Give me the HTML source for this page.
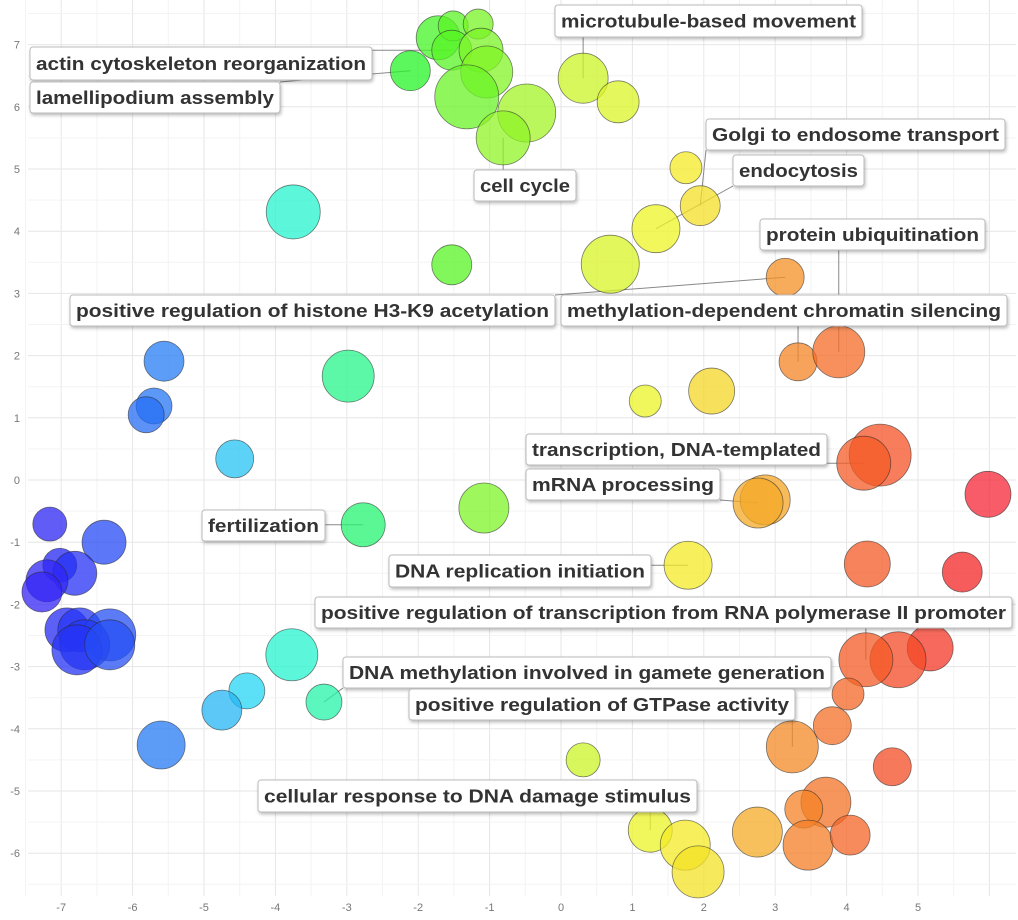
<!DOCTYPE html>
<html><head><meta charset="utf-8">
<style>
html,body{margin:0;padding:0;background:#fff;}
svg{display:block;font-family:"Liberation Sans",sans-serif;}
.lbl{font-weight:bold;font-size:18.5px;fill:#333;}
</style></head>
<body>
<svg id="chart" width="1018" height="920" viewBox="0 0 1018 920" xmlns="http://www.w3.org/2000/svg">
<defs><filter id="sh" x="-5%" y="-20%" width="110%" height="150%"><feDropShadow dx="1" dy="2" stdDeviation="1.5" flood-color="#000" flood-opacity="0.25"/></filter></defs>
<g id="grid"></g>
<g id="ticks"></g>
<g id="lines"></g>
<g id="bubbles"></g>
<g id="labels"></g>
</svg>
<script>
const xTicks=[-7,-6,-5,-4,-3,-2,-1,0,1,2,3,4,5];
const yTicks=[-6,-5,-4,-3,-2,-1,0,1,2,3,4,5,6,7];
const xs=[-1.72,-1.51,-1.16,-1.53,-1.12,-1.04,-1.32,-2.11,-0.48,-0.81,0.31,0.80,1.75,1.95,1.33,0.69,-3.75,-1.53,3.14,3.32,3.89,-2.98,2.11,1.18,-5.56,-5.70,-5.81,-4.57,4.47,4.24,5.98,2.86,2.76,-1.08,-2.77,-7.16,-6.40,1.78,4.29,5.62,-7.02,-6.81,-7.20,-7.27,-6.92,-6.74,-6.32,-6.67,-6.78,-6.32,5.17,4.72,4.27,-3.77,-3.32,-4.40,-4.75,-5.60,4.02,3.80,3.24,0.31,4.64,3.71,3.40,2.75,3.46,4.05,1.25,1.74,1.92];
const ys=[7.11,7.30,7.33,6.91,6.91,6.56,6.16,6.58,5.90,5.50,6.46,6.08,5.02,4.41,4.04,3.47,4.31,3.46,3.26,1.90,2.06,1.67,1.43,1.27,1.91,1.19,1.05,0.34,0.40,0.27,-0.23,-0.32,-0.37,-0.45,-0.72,-0.71,-1.00,-1.37,-1.35,-1.48,-1.37,-1.50,-1.62,-1.80,-2.41,-2.41,-2.49,-2.65,-2.73,-2.65,-2.70,-2.89,-2.89,-2.81,-3.57,-3.39,-3.70,-4.26,-3.44,-3.95,-4.29,-4.50,-4.61,-5.18,-5.29,-5.66,-5.87,-5.71,-5.63,-5.87,-6.30];
const sizes=[22,15,15,20,22,26,32,20,29,27,25,21,16,20,24,29,27,20,19,19,26,26,23,16,20,18,18,19,31,27,23,25,25,25,22,17,22,24,23,20,17,22,21,20,22,22,26,25,25,25,23,28,27,26,18,18,20,24,16,19,26,17,19,25,19,25,25,20,22,25,26];
const labelTexts=["microtubule-based movement","actin cytoskeleton reorganization","lamellipodium assembly","cell cycle","Golgi to endosome transport","endocytosis","protein ubiquitination","positive regulation of histone H3-K9 acetylation","methylation-dependent chromatin silencing","transcription, DNA-templated","mRNA processing","fertilization","DNA replication initiation","positive regulation of transcription from RNA polymerase II promoter","DNA methylation involved in gamete generation","positive regulation of GTPase activity","cellular response to DNA damage stimulus"];
const labelTargets=[10,3,7,9,13,14,20,18,19,29,32,34,37,52,54,60,68];
const labelBoxes=[[555,5,862,37],[30,47,372,80],[30,82,280,113],[474,170,576,201],[706,119,1005,150],[733,155,864,186],[760,219,985,250],[70,295,555,326],[561,295,1007,326],[526,434,827,465],[526,469,720,500],[202,510,325,541],[389,555,651,587],[315,597,1012,628],[343,657,831,688],[409,689,795,720],[258,780,697,812]];
const X=v=>561+v*71.4, Y=v=>480-v*62.2;
const NS="http://www.w3.org/2000/svg";
function mk(t,a,p){const e=document.createElementNS(NS,t);for(const k in a)e.setAttribute(k,a[k]);p.appendChild(e);return e;}
const grid=document.getElementById('grid'),ticks=document.getElementById('ticks');
for(let v=-7.5;v<=6;v+=0.5){const l=mk('line',{x1:X(v),x2:X(v),y1:0,y2:896,stroke:Number.isInteger(v)?'#e6e6e6':'#f3f3f3','stroke-width':1},grid);

}
for(let v=-6.5;v<=7.5;v+=0.5){const l=mk('line',{x1:28,x2:1016,y1:Y(v),y2:Y(v),stroke:Number.isInteger(v)?'#e6e6e6':'#f3f3f3','stroke-width':1},grid);

}
xTicks.forEach(v=>{const t=mk('text',{x:X(v),y:911,'text-anchor':'middle','font-size':11,fill:'#777'},ticks);t.textContent=v;

});
yTicks.forEach(v=>{const t=mk('text',{x:20,y:Y(v)+4,'text-anchor':'end','font-size':11,fill:'#777'},ticks);t.textContent=v;

});
function hue(x){const p=[[-7.3,245],[-5.6,215],[-4.6,195],[-3.8,170],[-3,150],[-2.1,120],[-1,92],[0.3,72],[1.8,57],[2.8,38],[3.3,28],[4.3,15],[5.2,5],[6,-5]];
for(let i=1;i<p.length;i++){if(x<=p[i][0]){const a=p[i-1],b=p[i];const t=Math.max(0,(x-a[0])/(b[0]-a[0]));return a[1]+t*(b[1]-a[1]);}}return -5;}
const bub=document.getElementById('bubbles');
xs.forEach((x,i)=>{const h=(hue(x)+360)%360;const c=mk('circle',{cx:X(x),cy:Y(ys[i]),r:sizes[i],fill:`hsla(${h},90%,55%,0.75)`,stroke:'rgba(40,40,40,0.6)','stroke-width':0.8},bub);

});
const lines=document.getElementById('lines'),labs=document.getElementById('labels');
labelTexts.forEach((txt,i)=>{const b=labelBoxes[i],k=labelTargets[i];const tx=X(xs[k]),ty=Y(ys[k]);
const cx=Math.min(Math.max(tx,b[0]),b[2]),cy=Math.min(Math.max(ty,b[1]),b[3]);
const l=mk('line',{x1:cx,y1:cy,x2:tx,y2:ty,stroke:'#888','stroke-width':1},lines);


const g=mk('g',{},labs);


mk('rect',{x:b[0],y:b[1],width:b[2]-b[0],height:b[3]-b[1],rx:3,fill:'#fff',stroke:'#bbb','stroke-width':1,filter:'url(#sh)'},g);
const t=mk('text',{x:(b[0]+b[2])/2,y:(b[1]+b[3])/2+6.5,'text-anchor':'middle',class:'lbl',textLength:b[2]-b[0]-12,lengthAdjust:'spacingAndGlyphs'},g);t.textContent=txt;});
</script>
</body></html>
